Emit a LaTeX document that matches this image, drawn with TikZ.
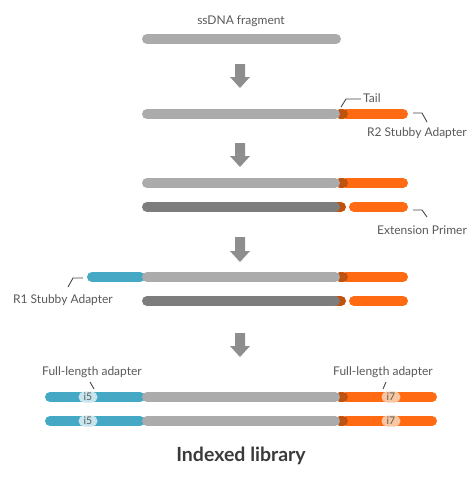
\documentclass[tikz,border=0pt]{standalone}
\usepackage{fontspec}
\setmainfont{Lato}
\definecolor{lgray}{HTML}{ABABAB}
\definecolor{dgray}{HTML}{7D7D7D}
\definecolor{orng}{HTML}{FF6A13}
\definecolor{dorng}{HTML}{BF520F}
\definecolor{blu}{HTML}{45A9C6}
\definecolor{lblu}{HTML}{C8E5EE}
\definecolor{lorng}{HTML}{F9C6A2}
\definecolor{txt}{HTML}{595959}
\definecolor{arr}{HTML}{8E8E8E}
\begin{document}
\begin{tikzpicture}[x=1pt,y=-1pt,
  bar/.style={line width=10pt,line cap=round},
  lbl/.style={text=txt,font=\fontsize{12}{14}\selectfont,inner sep=0pt},
  lead/.style={draw=txt!80!black,line width=0.9pt},
  badge/.style={fill=#1,rounded corners=5.5pt,minimum width=19pt,minimum height=11pt,inner sep=0pt,text=txt,font=\fontsize{10.5}{11}\selectfont},
  stepArrow/.style={fill=arr,draw=none}]
\useasboundingbox (0,0) rectangle (474,477);
% arrows
\foreach \ya/\yb in {64/88,143/167,237/262,333/357}{
  \fill[arr] (235,\ya) -- (245,\ya) -- (245,\yb-11) -- (250,\yb-11) -- (240,\yb) -- (230,\yb-11) -- (235,\yb-11) -- cycle;
}
% row 1
\node[lbl] (t1) at (241,21) {ssDNA fragment};
\draw[bar,lgray] (147,39) -- (336,39);
% row 2
\draw[bar,orng] (346,114) -- (403,114);
\draw[bar,dorng] (340,114) -- (343,114);
\draw[bar,lgray] (147,114) -- (335,114);
\coordinate (ta) at (341,107); \coordinate (tb) at (346,99); \coordinate (tc) at (361,99);
\draw[lead] (ta) -- (tb) -- (tc);
\node[lbl,anchor=west] (tail) at (363,98) {Tail};
\coordinate (ra) at (413,113); \coordinate (rb) at (422,113); \coordinate (rc) at (427,122);
\draw[lead] (ra) -- (rb) -- (rc);
\node[lbl] (r2) at (417,133) {R2 Stubby Adapter};
% row 3
\draw[bar,orng] (346,183) -- (403,183);
\draw[bar,dorng] (340,183) -- (343,183);
\draw[bar,lgray] (147,183) -- (335,183);
\draw[bar,orng] (354,207) -- (403,207);
\draw[bar,dorng] (337,207) -- (341,207);
\draw[bar,dgray] (147,207) -- (335,207);
\coordinate (ea) at (413,210); \coordinate (eb) at (422,210); \coordinate (ec) at (427,217);
\draw[lead] (ea) -- (eb) -- (ec);
\node[lbl] (ep) at (422,230) {Extension Primer};
% row 4
\draw[bar,blu] (92,277) -- (140,277);
\draw[bar,orng] (346,277) -- (403,277);
\draw[bar,dorng] (340,277) -- (343,277);
\draw[bar,lgray] (147,277) -- (335,277);
\draw[bar,orng] (354,301) -- (403,301);
\draw[bar,dorng] (337,301) -- (341,301);
\draw[bar,dgray] (147,301) -- (335,301);
\coordinate (sa) at (83,278); \coordinate (sb) at (73,278); \coordinate (sc) at (68,287);
\draw[lead] (sa) -- (sb) -- (sc);
\node[lbl] (r1) at (63,300) {R1 Stubby Adapter};
% row 5
\node[lbl] (fl) at (92,372) {Full-length adapter};
\node[lbl] (fr) at (383,372) {Full-length adapter};
\foreach \y/\n in {397/a,421/b}{
  \draw[bar,blu] (50,\y) -- (140,\y);
  \draw[bar,orng] (346,\y) -- (432,\y);
  \draw[bar,dorng] (340,\y) -- (343,\y);
  \draw[bar,lgray] (147,\y) -- (335,\y);
  \node[badge=lblu] (i5\n) at (88,\y) {i5};
  \node[badge=lorng] (i7\n) at (391,\y) {i7};
}
\coordinate (la) at (90,382); \coordinate (lb) at (94,389);
\draw[lead] (la) -- (lb);
\coordinate (rra) at (386,382); \coordinate (rrb) at (383,389);
\draw[lead] (rra) -- (rrb);
\node[text=txt!65!black,font=\bfseries\fontsize{19.5}{22}\selectfont,inner sep=0pt] (il) at (241,456) {Indexed library};
\end{tikzpicture}
\end{document}
